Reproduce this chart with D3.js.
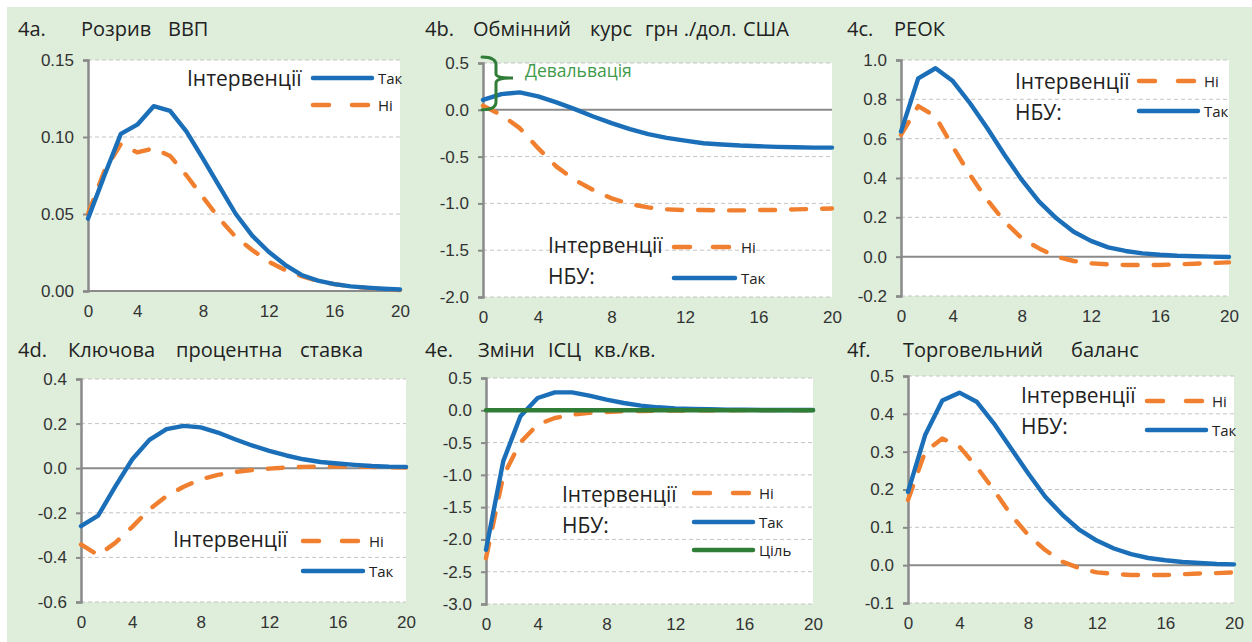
<!DOCTYPE html>
<html>
<head>
<meta charset="utf-8">
<script src="https://cdn.jsdelivr.net/npm/d3@7"></script>
<style>
  html, body { margin: 0; padding: 0; background: #ffffff; }
  svg { display: block; }
</style>
</head>
<body>
<svg id="chart" width="1252" height="642"></svg>
<script>
// ---------- DATA ----------
const quarters = [1,2,3,4,5,6,7,8,9,10,11,12,13,14,15,16,17,18,19,20];
const xTickValues = [1, 4, 8, 12, 16, 20];
const xTickLabels = ["0", "4", "8", "12", "16", "20"];

// 4a. GDP gap
const gdpTak = [0.047,0.075,0.102,0.108,0.120,0.117,0.1035,0.086,0.068,0.050,0.036,0.0255,0.017,0.0104,0.0067,0.0045,0.003,0.0022,0.0015,0.001];
const gdpNi  = [0.050,0.078,0.0955,0.090,0.0926,0.0877,0.075,0.061,0.047,0.035,0.0266,0.019,0.0136,0.0097,0.0065,0.0045,0.003,0.002,0.0013,0.0006];
const gdpTicks = [0, 0.05, 0.10, 0.15];

// 4b. UAH/USD exchange rate
const fxTak = [0.107,0.168,0.186,0.143,0.079,0.007,-0.071,-0.143,-0.207,-0.26,-0.30,-0.33,-0.357,-0.37,-0.382,-0.389,-0.396,-0.40,-0.404,-0.404];
const fxNi  = [0.043,-0.054,-0.196,-0.41,-0.607,-0.75,-0.857,-0.946,-1.007,-1.043,-1.064,-1.071,-1.071,-1.075,-1.075,-1.071,-1.071,-1.064,-1.06,-1.054];
const fxTicks = [-2.0, -1.5, -1.0, -0.5, 0.0, 0.5];

// 4c. REER
const reerTak = [0.636,0.907,0.958,0.893,0.78,0.653,0.517,0.39,0.28,0.195,0.127,0.08,0.047,0.029,0.017,0.01,0.005,0.002,0.0,-0.002];
const reerNi  = [0.619,0.766,0.712,0.559,0.415,0.288,0.178,0.093,0.042,0.0,-0.022,-0.034,-0.039,-0.042,-0.042,-0.042,-0.039,-0.036,-0.032,-0.029];
const reerTicks = [-0.2, 0.0, 0.2, 0.4, 0.6, 0.8, 1.0];

// 4d. Key policy rate
const rateTak = [-0.26,-0.213,-0.083,0.04,0.127,0.175,0.19,0.183,0.16,0.13,0.102,0.078,0.057,0.04,0.028,0.021,0.015,0.01,0.007,0.006];
const rateNi  = [-0.342,-0.39,-0.335,-0.263,-0.185,-0.125,-0.083,-0.05,-0.03,-0.017,-0.008,-0.002,0.003,0.006,0.007,0.007,0.007,0.006,0.004,0.003];
const rateTicks = [-0.6, -0.4, -0.2, 0.0, 0.2, 0.4];

// 4e. CPI q/q
const cpiTak    = [-2.16,-0.79,-0.093,0.19,0.278,0.278,0.227,0.165,0.113,0.072,0.046,0.03,0.02,0.015,0.01,0.01,0.005,0.005,0.005,0.005];
const cpiNi     = [-2.29,-1.02,-0.497,-0.22,-0.12,-0.068,-0.04,-0.026,-0.016,-0.01,-0.006,-0.004,-0.002,0,0,0.002,0.002,0.002,0.002,0];
const cpiTarget = [0,0,0,0,0,0,0,0,0,0,0,0,0,0,0,0,0,0,0,0];
const cpiTicks = [-3.0, -2.5, -2.0, -1.5, -1.0, -0.5, 0.0, 0.5];

// 4f. Trade balance
const tbTak = [0.194,0.344,0.435,0.456,0.432,0.375,0.309,0.243,0.181,0.133,0.093,0.065,0.044,0.029,0.019,0.013,0.0084,0.0057,0.003,0.002];
const tbNi  = [0.172,0.30,0.335,0.313,0.26,0.199,0.133,0.08,0.04,0.009,-0.008,-0.019,-0.023,-0.026,-0.026,-0.026,-0.024,-0.022,-0.021,-0.019];
const tbTicks = [-0.1, 0.0, 0.1, 0.2, 0.3, 0.4, 0.5];

// Text
const titlesA = ["4a.", "Розрив", "ВВП"];
const titlesB = ["4b.", "Обмінний", "курс", "грн ./дол.", "США"];
const titlesC = ["4c.", "РЕОК"];
const titlesD = ["4d.", "Ключова", "процентна", "ставка"];
const titlesE = ["4e.", "Зміни", "ІСЦ", "кв./кв."];
const titlesF = ["4f.", "Торговельний", "баланс"];
const legendTitle = "Інтервенції";
const legendSub = "НБУ:";
const nameTak = "Так", nameNi = "Ні", nameTarget = "Ціль";
const devalLabel = "Девальвація";

// ---------- STYLE ----------
const C_BLUE = "#1b6fb8", C_ORANGE = "#f0802f", C_GREEN = "#2f7d36";
const C_AXIS = "#8a8a8a", C_GRID = "#c4c4c4", C_TEXT = "#222222";
const TICK_FONT = "'Liberation Sans', Arial, sans-serif";
const TEXT_FONT = "'Open Sans', 'Noto Sans', sans-serif";

const svg = d3.select("#chart");
svg.append("rect").attr("x", 7).attr("y", 7).attr("width", 1245).attr("height", 635).attr("fill", "#deeedb");

function fmt(step) {
  const f = d3.format(step < 0.1 ? ".2f" : ".1f");
  return v => f(v).replace("\u2212", "-");
}

function panel(cfg) {
  const g = svg.append("g");
  const x = d3.scaleLinear().domain([1, 20]).range([cfg.left, cfg.right]);
  const y = d3.scaleLinear().domain(cfg.domain).range([cfg.bottom, cfg.top]);
  g.append("rect").attr("x", cfg.left).attr("y", cfg.top)
    .attr("width", cfg.right - cfg.left).attr("height", cfg.bottom - cfg.top).attr("fill", "#fff");
  g.selectAll(".grid").data(cfg.ticks.filter(t => Math.abs(t) > 1e-9))
    .join("line")
    .attr("x1", cfg.left).attr("x2", cfg.right)
    .attr("y1", d => y(d)).attr("y2", d => y(d))
    .attr("stroke", C_GRID).attr("stroke-width", 1).attr("stroke-dasharray", "4,3");
  g.append("line").attr("x1", cfg.left).attr("x2", cfg.right)
    .attr("y1", y(0)).attr("y2", y(0)).attr("stroke", C_AXIS).attr("stroke-width", 2);
  const yAxis = d3.axisLeft(y).tickValues(cfg.ticks).tickFormat(fmt(cfg.ticks[1] - cfg.ticks[0])).tickSize(5).tickPadding(9);
  const ya = g.append("g").attr("transform", `translate(${cfg.left},0)`).call(yAxis);
  ya.select(".domain").attr("stroke", C_AXIS).attr("stroke-width", 2.5);
  ya.selectAll(".tick line").attr("stroke", C_AXIS).attr("stroke-width", 2);
  ya.selectAll(".tick text").attr("font-family", TICK_FONT).attr("font-size", 17).attr("fill", "#333");
  const xAxis = d3.axisBottom(x).tickValues(xTickValues).tickFormat((d, i) => xTickLabels[i]).tickSize(0).tickPadding(14);
  const xa = g.append("g").attr("transform", `translate(0,${cfg.bottom})`).call(xAxis);
  xa.select(".domain").remove();
  xa.selectAll(".tick text").attr("font-family", TICK_FONT).attr("font-size", 17).attr("fill", "#333");
  const line = d3.line().x((d, i) => x(quarters[i])).y(d => y(d));
  cfg.series.forEach(s => {
    g.append("path").attr("d", line(s.values)).attr("fill", "none")
      .attr("stroke", s.color).attr("stroke-width", 4.4)
      .attr("stroke-linecap", "round").attr("stroke-linejoin", "round")
      .attr("stroke-dasharray", s.dash ? "15,16" : null);
  });
  cfg.title.forEach((t, i) => {
    g.append("text").attr("x", cfg.titleX[i]).attr("y", cfg.titleY).text(t)
      .attr("font-family", TEXT_FONT).attr("font-size", 20).attr("fill", C_TEXT);
  });
  const L = cfg.legend;
  g.append("text").attr("x", L.x).attr("y", L.y).text(legendTitle)
    .attr("font-family", TEXT_FONT).attr("font-size", 21).attr("fill", C_TEXT);
  if (L.sub) g.append("text").attr("x", L.x).attr("y", L.y + 31).text(legendSub)
    .attr("font-family", TEXT_FONT).attr("font-size", 21).attr("fill", C_TEXT);
  L.items.forEach(it => {
    g.append("line").attr("x1", L.lx1).attr("x2", L.lx2).attr("y1", it.y).attr("y2", it.y)
      .attr("stroke", it.color).attr("stroke-width", 4.5).attr("stroke-linecap", "round")
      .attr("stroke-dasharray", it.dash ? "16,23" : null);
    g.append("text").attr("x", L.lx2 + 6).attr("y", it.y + 6).text(it.name)
      .attr("font-family", TEXT_FONT).attr("font-size", 15).attr("fill", C_TEXT);
  });
  return {g, x, y};
}

panel({left: 88, right: 400, top: 60, bottom: 291, domain: [0, 0.15], ticks: gdpTicks,
  series: [{values: gdpNi, color: C_ORANGE, dash: true}, {values: gdpTak, color: C_BLUE}],
  title: titlesA, titleX: [18, 81, 168], titleY: 36,
  legend: {x: 187, y: 86, lx1: 313, lx2: 372, sub: false,
    items: [{name: nameTak, color: C_BLUE, y: 78}, {name: nameNi, color: C_ORANGE, dash: true, y: 105}]}});

const pb = panel({left: 483, right: 832, top: 63, bottom: 297, domain: [-2.0, 0.5], ticks: fxTicks,
  series: [{values: fxNi, color: C_ORANGE, dash: true}, {values: fxTak, color: C_BLUE}],
  title: titlesB, titleX: [425, 473, 590, 645, 743], titleY: 36,
  legend: {x: 548, y: 253, lx1: 674, lx2: 735, sub: true,
    items: [{name: nameNi, color: C_ORANGE, dash: true, y: 247}, {name: nameTak, color: C_BLUE, y: 278}]}});
{
  const yt = pb.y(0.5) - 6, yb = pb.y(0), ym = pb.y(0.34);
  const xa = 482, xv = 496, xt = 513;
  pb.g.append("path")
    .attr("d", `M${xa},${yt} Q${xv},${yt} ${xv},${yt + 8} L${xv},${ym - 4} Q${xv},${ym} ${xt},${ym} Q${xv},${ym} ${xv},${ym + 5} L${xv},${yb - 8} Q${xv},${yb} ${xa},${yb}`)
    .attr("fill", "none").attr("stroke", C_GREEN).attr("stroke-width", 3).attr("stroke-linecap", "round");
  pb.g.append("text").attr("x", 525).attr("y", 77).text(devalLabel)
    .attr("font-family", TEXT_FONT).attr("font-size", 17.5).attr("fill", "#3f9a4a");
}

panel({left: 901, right: 1229, top: 60, bottom: 296, domain: [-0.2, 1.0], ticks: reerTicks,
  series: [{values: reerNi, color: C_ORANGE, dash: true}, {values: reerTak, color: C_BLUE}],
  title: titlesC, titleX: [847, 894], titleY: 36,
  legend: {x: 1015, y: 89, lx1: 1139, lx2: 1198, sub: true,
    items: [{name: nameNi, color: C_ORANGE, dash: true, y: 81}, {name: nameTak, color: C_BLUE, y: 111}]}});

panel({left: 81, right: 406, top: 379, bottom: 602, domain: [-0.6, 0.4], ticks: rateTicks,
  series: [{values: rateNi, color: C_ORANGE, dash: true}, {values: rateTak, color: C_BLUE}],
  title: titlesD, titleX: [18, 68, 176, 300], titleY: 357,
  legend: {x: 173, y: 547, lx1: 303, lx2: 363, sub: false,
    items: [{name: nameNi, color: C_ORANGE, dash: true, y: 541}, {name: nameTak, color: C_BLUE, y: 571}]}});

panel({left: 486, right: 813, top: 378, bottom: 604, domain: [-3.0, 0.5], ticks: cpiTicks,
  series: [{values: cpiNi, color: C_ORANGE, dash: true}, {values: cpiTak, color: C_BLUE}, {values: cpiTarget, color: C_GREEN}],
  title: titlesE, titleX: [425, 478, 548, 594], titleY: 357,
  legend: {x: 562, y: 502, lx1: 694, lx2: 753, sub: true,
    items: [{name: nameNi, color: C_ORANGE, dash: true, y: 493}, {name: nameTak, color: C_BLUE, y: 522}, {name: nameTarget, color: C_GREEN, y: 550}]}});

panel({left: 908, right: 1234, top: 376, bottom: 603, domain: [-0.1, 0.5], ticks: tbTicks,
  series: [{values: tbNi, color: C_ORANGE, dash: true}, {values: tbTak, color: C_BLUE}],
  title: titlesF, titleX: [847, 903, 1071], titleY: 357,
  legend: {x: 1021, y: 403, lx1: 1147, lx2: 1206, sub: true,
    items: [{name: nameNi, color: C_ORANGE, dash: true, y: 401}, {name: nameTak, color: C_BLUE, y: 430}]}});
</script>
</body>
</html>
